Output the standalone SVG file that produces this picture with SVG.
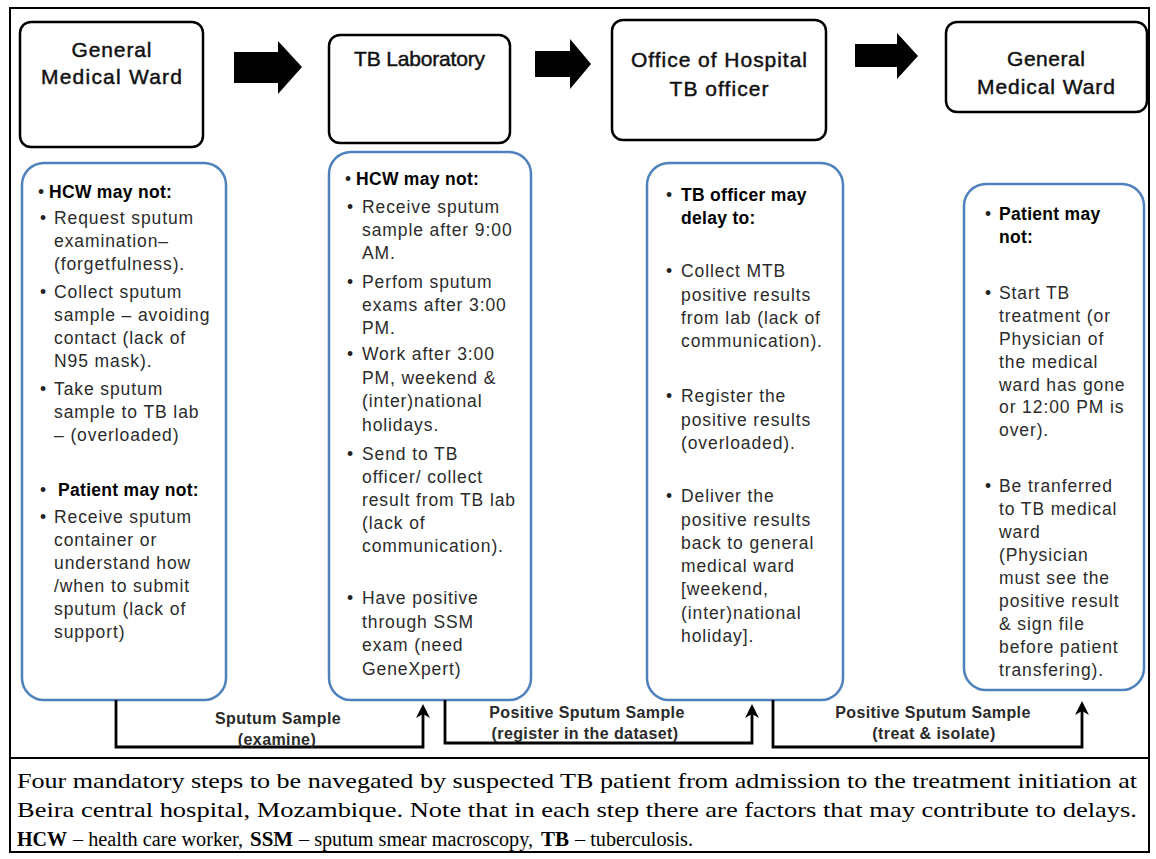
<svg xmlns="http://www.w3.org/2000/svg" width="1156" height="859" viewBox="0 0 1156 859">
<style>
.frame{fill:none;stroke:#000;stroke-width:2}
.hbox{fill:#fff;stroke:#000;stroke-width:2.5}
.bbox{fill:#fff;stroke:#4f81bd;stroke-width:2.5}
.ht{font-family:"Liberation Sans",Arial,sans-serif;font-size:21px;fill:#111;stroke:#111;stroke-width:0.45px;text-anchor:middle}
.b{font-family:"Liberation Sans",Arial,sans-serif;font-size:17.5px;fill:#2b2b2b;letter-spacing:0.9px}
.bh{font-family:"Liberation Sans",Arial,sans-serif;font-size:17.5px;fill:#000;font-weight:bold;letter-spacing:0.3px}
.bu{font-family:"Liberation Sans",Arial,sans-serif;font-size:17.5px;fill:#222}
.conn{fill:none;stroke:#000;stroke-width:2.8}
.blk{fill:#000}
.cl{font-family:"Liberation Sans",Arial,sans-serif;font-size:16px;font-weight:bold;fill:#2a2a2a;text-anchor:middle;letter-spacing:0.4px}
.cap{font-family:"Liberation Serif","Times New Roman",serif;font-size:21.5px;fill:#000}
.c3{font-family:"Liberation Serif","Times New Roman",serif;font-size:20px;fill:#000}
.c3b{font-family:"Liberation Serif","Times New Roman",serif;font-size:20px;fill:#000;font-weight:bold}
</style>
<defs>
<marker id="ah" viewBox="0 -7 14 14" markerWidth="14" markerHeight="14" refX="4" refY="0" orient="auto" markerUnits="userSpaceOnUse">
<path d="M0,-7 L14,0 L0,7 L4,0 Z" fill="#000"/>
</marker>
</defs>
<rect x="0" y="0" width="1156" height="859" fill="#fff"/>
<g id="frame">
<rect class="frame" x="10" y="8" width="1139" height="844"/>
<line class="frame" x1="10" y1="758" x2="1149" y2="758"/>
</g>

<g id="step1">
<rect class="hbox" x="20" y="22" width="183" height="125" rx="11"/>
<text class="ht" x="111.5" y="57" textLength="80" lengthAdjust="spacing">General</text>
<text class="ht" x="111.5" y="84" textLength="141" lengthAdjust="spacing">Medical Ward</text>
</g>
<g id="step2">
<rect class="hbox" x="329" y="35" width="181" height="108" rx="11"/>
<text class="ht" x="419.5" y="66" textLength="131" lengthAdjust="spacing">TB Laboratory</text>
</g>
<g id="step3">
<rect class="hbox" x="612" y="20" width="214" height="120" rx="11"/>
<text class="ht" x="719" y="67" textLength="176" lengthAdjust="spacing">Office of Hospital</text>
<text class="ht" x="719" y="96" textLength="99" lengthAdjust="spacing">TB officer</text>
</g>
<g id="step4">
<rect class="hbox" x="946" y="22" width="201" height="90" rx="11"/>
<text class="ht" x="1046" y="66" textLength="78" lengthAdjust="spacing">General</text>
<text class="ht" x="1046" y="94" textLength="138" lengthAdjust="spacing">Medical Ward</text>
</g>

<g id="delays1">
<rect class="bbox" x="22" y="163" width="204" height="537" rx="22"/>
<text class="bu" x="38" y="198">•</text><text class="bh" x="49" y="198">HCW may not:</text>
<text class="bu" x="40" y="224">•</text><text class="b" x="54" y="224">Request sputum</text>
<text class="b" x="54" y="247">examination–</text>
<text class="b" x="54" y="270">(forgetfulness).</text>
<text class="bu" x="40" y="298">•</text><text class="b" x="54" y="298">Collect sputum</text>
<text class="b" x="54" y="321">sample – avoiding</text>
<text class="b" x="54" y="344">contact (lack of</text>
<text class="b" x="54" y="367">N95 mask).</text>
<text class="bu" x="40" y="395">•</text><text class="b" x="54" y="395">Take sputum</text>
<text class="b" x="54" y="418">sample to TB lab</text>
<text class="b" x="54" y="441">– (overloaded)</text>
<text class="bu" x="40" y="496">•</text><text class="bh" x="58" y="496">Patient may not:</text>
<text class="bu" x="40" y="523">•</text><text class="b" x="54" y="523">Receive sputum</text>
<text class="b" x="54" y="546">container or</text>
<text class="b" x="54" y="569">understand how</text>
<text class="b" x="54" y="592">/when to submit</text>
<text class="b" x="54" y="615">sputum (lack of</text>
<text class="b" x="54" y="638">support)</text>
</g>

<g id="delays2">
<rect class="bbox" x="329" y="152" width="202" height="548" rx="22"/>
<text class="bu" x="345" y="185">•</text><text class="bh" x="356" y="185">HCW may not:</text>
<text class="bu" x="347" y="213">•</text><text class="b" x="362" y="213">Receive sputum</text>
<text class="b" x="362" y="236">sample after 9:00</text>
<text class="b" x="362" y="259">AM.</text>
<text class="bu" x="347" y="288">•</text><text class="b" x="362" y="288">Perfom sputum</text>
<text class="b" x="362" y="311">exams after 3:00</text>
<text class="b" x="362" y="334">PM.</text>
<text class="bu" x="347" y="360">•</text><text class="b" x="362" y="360">Work after 3:00</text>
<text class="b" x="362" y="383.5">PM, weekend &amp;</text>
<text class="b" x="362" y="407">(inter)national</text>
<text class="b" x="362" y="430.5">holidays.</text>
<text class="bu" x="347" y="460">•</text><text class="b" x="362" y="460">Send to TB</text>
<text class="b" x="362" y="483">officer/ collect</text>
<text class="b" x="362" y="506">result from TB lab</text>
<text class="b" x="362" y="529">(lack of</text>
<text class="b" x="362" y="552">communication).</text>
<text class="bu" x="347" y="604">•</text><text class="b" x="362" y="604">Have positive</text>
<text class="b" x="362" y="627.5">through SSM</text>
<text class="b" x="362" y="651">exam (need</text>
<text class="b" x="362" y="674.5">GeneXpert)</text>
</g>

<g id="delays3">
<rect class="bbox" x="647" y="163" width="196" height="537" rx="22"/>
<text class="bu" x="666" y="201">•</text><text class="bh" x="681" y="201">TB officer may</text>
<text class="bh" x="681" y="224">delay to:</text>
<text class="bu" x="666" y="277">•</text><text class="b" x="681" y="277">Collect MTB</text>
<text class="b" x="681" y="300.5">positive results</text>
<text class="b" x="681" y="324">from lab (lack of</text>
<text class="b" x="681" y="347">communication).</text>
<text class="bu" x="666" y="402">•</text><text class="b" x="681" y="402">Register  the</text>
<text class="b" x="681" y="425.5">positive results</text>
<text class="b" x="681" y="449">(overloaded).</text>
<text class="bu" x="666" y="502">•</text><text class="b" x="681" y="502">Deliver the</text>
<text class="b" x="681" y="525.5">positive results</text>
<text class="b" x="681" y="549">back to general</text>
<text class="b" x="681" y="572">medical ward</text>
<text class="b" x="681" y="595">[weekend,</text>
<text class="b" x="681" y="618.5">(inter)national</text>
<text class="b" x="681" y="642">holiday].</text>
</g>

<g id="delays4">
<rect class="bbox" x="964" y="184" width="180" height="506" rx="22"/>
<text class="bu" x="985" y="220">•</text><text class="bh" x="999" y="220">Patient may</text>
<text class="bh" x="999" y="243">not:</text>
<text class="bu" x="985" y="299">•</text><text class="b" x="999" y="299">Start TB</text>
<text class="b" x="999" y="322">treatment (or</text>
<text class="b" x="999" y="345">Physician of</text>
<text class="b" x="999" y="368">the medical</text>
<text class="b" x="999" y="391">ward has gone</text>
<text class="b" x="999" y="413">or 12:00 PM is</text>
<text class="b" x="999" y="436">over).</text>
<text class="bu" x="985" y="492">•</text><text class="b" x="999" y="492">Be tranferred</text>
<text class="b" x="999" y="515">to TB medical</text>
<text class="b" x="999" y="538">ward</text>
<text class="b" x="999" y="561">(Physician</text>
<text class="b" x="999" y="584">must see the</text>
<text class="b" x="999" y="607">positive result</text>
<text class="b" x="999" y="630">&amp; sign file</text>
<text class="b" x="999" y="653">before patient</text>
<text class="b" x="999" y="676">transfering).</text>
</g>

<g id="connectors">
<path class="blk" d="M234,52 H278 V41 L302,67 L278,94 V83 H234 Z"/>
<path class="blk" d="M535,51 H570 V39 L591,64 L570,89 V77 H535 Z"/>
<path class="blk" d="M855,44 H897 V33 L918,56 L897,79 V67 H855 Z"/>
<polyline class="conn" points="116,700 116,747 423,747 423,714" marker-end="url(#ah)"/>
<polyline class="conn" points="445,700 445,743 752,743 752,714" marker-end="url(#ah)"/>
<polyline class="conn" points="773,700 773,747 1082,747 1082,711" marker-end="url(#ah)"/>
<text class="cl" x="278" y="724">Sputum Sample</text>
<text class="cl" x="277" y="745">(examine)</text>
<text class="cl" x="587" y="718">Positive Sputum Sample</text>
<text class="cl" x="585" y="739">(register in the dataset)</text>
<text class="cl" x="933" y="718">Positive Sputum Sample</text>
<text class="cl" x="934" y="739">(treat &amp; isolate)</text>
</g>

<g id="caption">
<text class="cap" x="17" y="788" textLength="1120" lengthAdjust="spacingAndGlyphs">Four mandatory steps to be navegated by suspected TB patient from admission to the treatment initiation at</text>
<text class="cap" x="17" y="817" textLength="1120" lengthAdjust="spacingAndGlyphs">Beira central hospital, Mozambique. Note that in each step there are factors that may contribute to delays.</text>
<text class="c3b" x="17" y="846" textLength="50" lengthAdjust="spacingAndGlyphs">HCW</text>
<text class="c3" x="73" y="846" textLength="170" lengthAdjust="spacingAndGlyphs">– health care worker,</text>
<text class="c3b" x="250" y="846" textLength="43" lengthAdjust="spacingAndGlyphs">SSM</text>
<text class="c3" x="299" y="846" textLength="234" lengthAdjust="spacingAndGlyphs">– sputum smear macroscopy,</text>
<text class="c3b" x="541" y="846" textLength="28" lengthAdjust="spacingAndGlyphs">TB</text>
<text class="c3" x="575" y="846" textLength="118" lengthAdjust="spacingAndGlyphs">– tuberculosis.</text>
</g>
</svg>
